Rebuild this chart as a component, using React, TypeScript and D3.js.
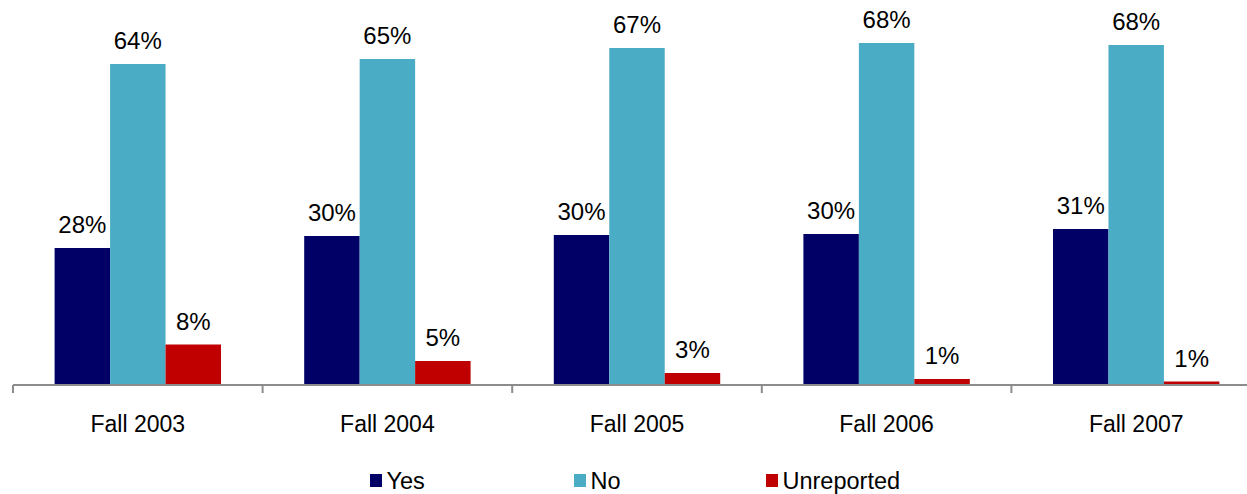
import React from "react";
import * as d3 from "d3";

const categories = ["Fall 2003", "Fall 2004", "Fall 2005", "Fall 2006", "Fall 2007"];
const seriesNames = ["Yes", "No", "Unreported"];
const yesValues = [27.4, 29.8, 30.0, 30.2, 31.2];
const noValues = [64.2, 65.2, 67.4, 68.4, 68.0];
const unreportedValues = [8.1, 4.8, 2.4, 1.2, 0.7];
const yesLabels = ["28%", "30%", "30%", "30%", "31%"];
const noLabels = ["64%", "65%", "67%", "68%", "68%"];
const unreportedLabels = ["8%", "5%", "3%", "1%", "1%"];
const colors = ["#000066", "#4BACC6", "#C00000"];

const W = 1247;
const H = 494;
const baseY = 385;

export default function App() {
  const x0 = d3.scaleBand<string>().domain(categories).range([13, 1261]).paddingInner(0).paddingOuter(0);
  const x1 = d3.scaleBand<string>().domain(seriesNames).range([0, x0.bandwidth()]).paddingInner(0).paddingOuter(0.75);
  const y = d3.scaleLinear().domain([0, 70]).range([baseY, 35]);

  const values = [yesValues, noValues, unreportedValues];
  const labels = [yesLabels, noLabels, unreportedLabels];

  const tickXs = [...categories.map((c) => x0(c)!), x0(categories[categories.length - 1])! + x0.bandwidth()];

  const legendX = [370, 574, 766];
  const font = "Arial, 'Liberation Sans', sans-serif";

  return (
    <svg width={W} height={H} style={{ position: "absolute", left: 0, top: 0, background: "#fff" }} fontFamily={font}>
      {categories.map((c, ci) => (
        <g key={c} transform={`translate(${x0(c)},0)`}>
          {seriesNames.map((s, si) => {
            const v = values[si][ci];
            const bx = x1(s)!;
            const bw = x1.bandwidth();
            return (
              <g key={s}>
                <rect x={bx} y={y(v)} width={bw} height={baseY - y(v)} fill={colors[si]} />
                <text x={bx + bw / 2} y={y(v) - 15} textAnchor="middle" fontSize={24} fill="#000">
                  {labels[si][ci]}
                </text>
              </g>
            );
          })}
          <text x={x0.bandwidth() / 2} y={431.5} textAnchor="middle" fontSize={23} fill="#000">
            {c}
          </text>
        </g>
      ))}
      <line x1={13} x2={1261} y1={baseY} y2={baseY} stroke="#8c8c8c" strokeWidth={2} />
      {tickXs.map((tx, i) => (
        <line key={i} x1={tx} x2={tx} y1={baseY} y2={baseY + 8} stroke="#8c8c8c" strokeWidth={2} />
      ))}
      {seriesNames.map((s, si) => (
        <g key={s}>
          <rect x={legendX[si]} y={474} width={12} height={13} fill={colors[si]} />
          <text x={legendX[si] + 16.5} y={488.5} fontSize={23.5} fill="#000">
            {s}
          </text>
        </g>
      ))}
    </svg>
  );
}
